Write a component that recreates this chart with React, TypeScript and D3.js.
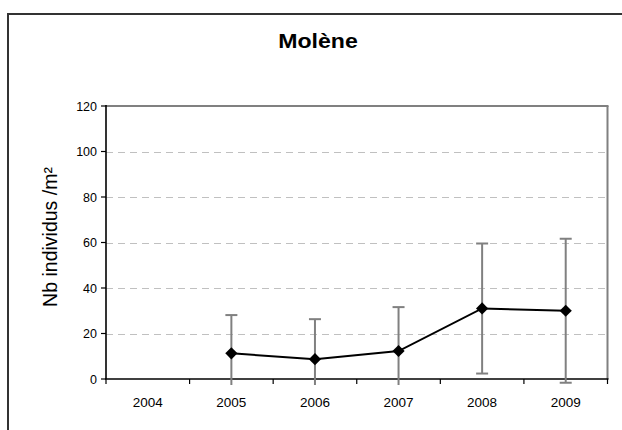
import React from "react";
import * as d3 from "d3";

const years = ["2004", "2005", "2006", "2007", "2008", "2009"];
const means: (number | null)[] = [null, 11.3, 8.7, 12.3, 31.0, 30.0];
const errors: (number | null)[] = [null, 16.8, 17.6, 19.3, 28.6, 31.6];
const yTicks = [0, 20, 40, 60, 80, 100, 120];

const W = 622, H = 430;
const m = { left: 106, right: 607.5, top: 106, bottom: 379 };

export default function App() {
  const x = d3.scaleBand<string>().domain(years).range([m.left, m.right]).padding(0);
  const y = d3.scaleLinear().domain([0, 120]).range([m.bottom, m.top]);
  const cx = (yr: string) => (x(yr) as number) + x.bandwidth() / 2;
  const pts = years
    .map((yr, i) => ({ yr, v: means[i], e: errors[i] }))
    .filter((d) => d.v !== null) as { yr: string; v: number; e: number }[];
  const line = d3.line<{ yr: string; v: number }>().x((d) => cx(d.yr)).y((d) => y(d.v));
  const font = "'Liberation Sans', Arial, sans-serif";
  const diamond = d3.symbol().type(d3.symbolDiamond2).size(95)();
  return (
    <svg width={W} height={H} style={{ position: "absolute", left: 0, top: 0, background: "#fff" }} fontFamily={font}>
      <defs>
        <clipPath id="clipErr">
          <rect x={m.left} y={m.top - 20} width={m.right - m.left} height={m.bottom - m.top + 26} />
        </clipPath>
      </defs>
      <rect x={8} y={14} width={W} height={H} fill="none" stroke="#333" strokeWidth={2} />
      <text transform="translate(318,48) scale(1.1,1)" textAnchor="middle" fontSize={21} fontWeight="bold">Molène</text>
      {/* gridlines */}
      {yTicks.filter((t) => t > 0 && t < 120).map((t) => (
        <line key={t} x1={m.left} x2={m.right} y1={Math.round(y(t)) + 0.5} y2={Math.round(y(t)) + 0.5}
          stroke="#c0c0c0" strokeDasharray="7,5" strokeWidth={1} />
      ))}
      {/* plot border top/right */}
      <line x1={m.left} x2={m.right + 1} y1={m.top} y2={m.top} stroke="#808080" strokeWidth={2} />
      <line x1={m.right} x2={m.right} y1={m.top} y2={m.bottom} stroke="#808080" strokeWidth={2} />
      {/* y axis */}
      <line x1={m.left} x2={m.left} y1={m.top - 1} y2={m.bottom} stroke="#000" strokeWidth={1.6} />
      {yTicks.map((t) => (
        <g key={t}>
          <line x1={m.left - 5} x2={m.left} y1={y(t)} y2={y(t)} stroke="#000" strokeWidth={1.2} />
          <text x={m.left - 9} y={y(t) + 4.5} textAnchor="end" fontSize={12.5}>{t}</text>
        </g>
      ))}
      {/* x axis */}
      <line x1={m.left - 1} x2={m.right + 1} y1={m.bottom} y2={m.bottom} stroke="#000" strokeWidth={1.6} />
      {years.map((yr, i) => (
        <g key={yr}>
          {i === 0 && (
            <line x1={m.left} x2={m.left} y1={m.bottom} y2={m.bottom + 5} stroke="#000" strokeWidth={1.2} />
          )}
          <line x1={(x(yr) as number) + x.bandwidth()} x2={(x(yr) as number) + x.bandwidth()}
            y1={m.bottom} y2={m.bottom + 5} stroke="#000" strokeWidth={1.2} />
          <text x={cx(yr)} y={m.bottom + 28} textAnchor="middle" fontSize={13.5}>{yr}</text>
        </g>
      ))}
      {/* y label */}
      <text transform={`translate(57,237) rotate(-90)`} textAnchor="middle" fontSize={19.5}>Nb individus /m²</text>
      {/* error bars */}
      <g clipPath="url(#clipErr)" stroke="#808080" strokeWidth={2}>
        {pts.map((d) => (
          <g key={d.yr}>
            <line x1={cx(d.yr)} x2={cx(d.yr)} y1={y(d.v + d.e)} y2={y(d.v - d.e)} />
            <line x1={cx(d.yr) - 6} x2={cx(d.yr) + 6} y1={y(d.v + d.e)} y2={y(d.v + d.e)} />
            <line x1={cx(d.yr) - 6} x2={cx(d.yr) + 6} y1={y(d.v - d.e)} y2={y(d.v - d.e)} />
          </g>
        ))}
      </g>
      <path d={line(pts) || ""} fill="none" stroke="#000" strokeWidth={2} />
      {pts.map((d) => (
        <path key={d.yr} d={diamond || ""} transform={`translate(${cx(d.yr)},${y(d.v)})`} fill="#000" />
      ))}
    </svg>
  );
}
